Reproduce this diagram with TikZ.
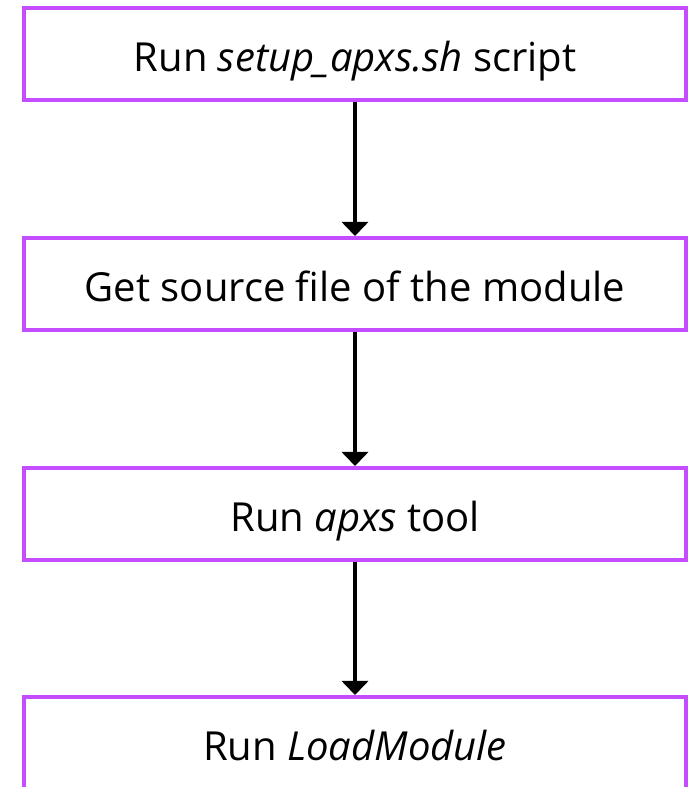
\documentclass[tikz,border=0pt]{standalone}
\usepackage{fontspec}
\setmainfont{Open Sans}
\usetikzlibrary{arrows.meta}
\definecolor{stepedge}{HTML}{C44DFF}
\begin{document}
\begin{tikzpicture}[x=1pt,y=1pt,
  stepbox/.style={draw=stepedge,line width=4pt,fill=white},
  steptext/.style={anchor=base,inner sep=0pt,font=\fontsize{40}{48}\selectfont},
  flow/.style={line width=4pt,-{Triangle[width=26pt,length=14pt]}}]
\useasboundingbox (0,0) rectangle (694,787);
\begin{scope}
\clip (0,0) rectangle (694,787);
% step boxes
\draw[stepbox] (24,687) rectangle (686,779);
\draw[stepbox] (24,457) rectangle (686,549);
\draw[stepbox] (24,227) rectangle (686,319);
\draw[stepbox] (24,-2) rectangle (686,90);
\end{scope}
% labels
\node[steptext] (s1) at (355,715) {Run \textit{setup\_apxs.sh} script};
\node[steptext] (s2) at (355,485) {Get source file of the module};
\node[steptext] (s3) at (355,255) {Run \textit{apxs} tool};
\node[steptext] (s4) at (355,26) {Run \textit{LoadModule}};
% anchor points on the box edges
\coordinate (b1) at (355,685);
\coordinate (t2) at (355,551);
\coordinate (b2) at (355,455);
\coordinate (t3) at (355,321);
\coordinate (b3) at (355,225);
\coordinate (t4) at (355,92);
\draw[flow] (b1) -- (t2);
\draw[flow] (b2) -- (t3);
\draw[flow] (b3) -- (t4);
\end{tikzpicture}
\end{document}
